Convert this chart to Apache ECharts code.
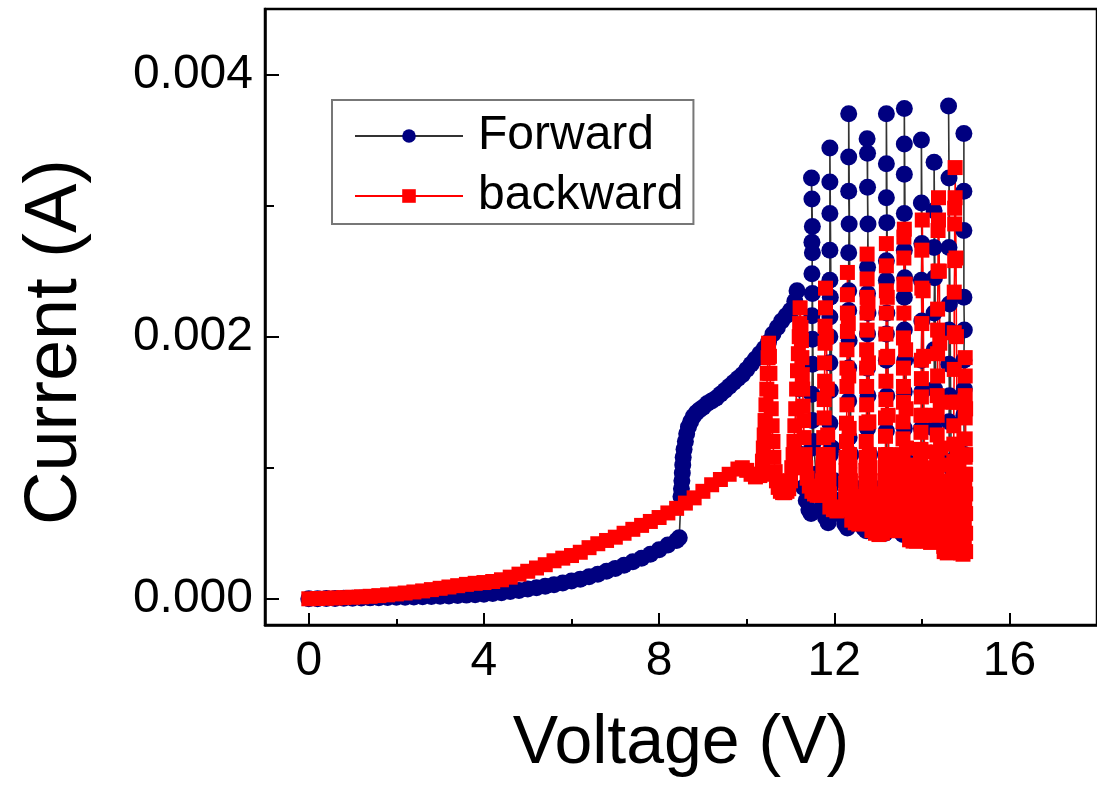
<!DOCTYPE html>
<html>
<head>
<meta charset="utf-8">
<script src="https://cdn.jsdelivr.net/npm/echarts@6/dist/echarts.min.js"></script>
<style>
  html, body { margin: 0; padding: 0; background: #fff; }
  #chart { width: 1097px; height: 791px; }
</style>
</head>
<body>
<div id="chart"></div>
<script>
// values: [voltage (V), current (mA)]
const forwardLow = [
  [0, 0], [0.2, 0.001], [0.4, 0.002], [0.6, 0.003], [0.8, 0.004], [1, 0.005], [1.2, 0.006],
  [1.4, 0.007], [1.6, 0.008], [1.8, 0.009], [2, 0.011], [2.2, 0.012], [2.4, 0.014], [2.6, 0.016],
  [2.8, 0.018], [3, 0.02], [3.2, 0.022], [3.4, 0.025], [3.6, 0.028], [3.8, 0.031], [4, 0.035],
  [4.2, 0.04], [4.4, 0.047], [4.6, 0.055], [4.8, 0.064], [5, 0.075], [5.2, 0.085], [5.4, 0.095],
  [5.6, 0.107], [5.8, 0.12], [6, 0.135], [6.2, 0.15], [6.4, 0.168], [6.6, 0.188], [6.8, 0.21],
  [7, 0.232], [7.2, 0.256], [7.4, 0.282], [7.6, 0.31], [7.8, 0.34], [8, 0.375], [8.2, 0.41],
  [8.4, 0.445], [8.46, 0.465]
]
const forwardRise = [
  [8.5, 0.78], [8.51, 0.84], [8.52, 0.9], [8.53, 0.96], [8.54, 1.02], [8.55, 1.08], [8.57, 1.14],
  [8.6, 1.2], [8.63, 1.26], [8.67, 1.31], [8.72, 1.35], [8.78, 1.39], [8.85, 1.42], [8.92, 1.44],
  [9, 1.46], [9.1, 1.49], [9.2, 1.51], [9.3, 1.53], [9.4, 1.56], [9.5, 1.59], [9.6, 1.62], [9.7, 1.65],
  [9.8, 1.68], [9.9, 1.71], [10, 1.75], [10.1, 1.79], [10.2, 1.83], [10.3, 1.87], [10.4, 1.91],
  [10.5, 1.96], [10.6, 2.02], [10.7, 2.07], [10.8, 2.12], [10.9, 2.16], [11, 2.2], [11.1, 2.27],
  [11.15, 2.35]
]
const forwardOsc = [
  [11.2, 1.6], [11.25, 1.1], [11.3, 0.85], [11.36, 0.75], [11.42, 0.68], [11.47, 0.65],
  [11.49, 0.9], [11.5, 1.15], [11.5, 1.36], [11.49, 1.56], [11.5, 1.79], [11.5, 1.98], [11.49, 2.16],
  [11.5, 2.33], [11.49, 2.48], [11.5, 2.64], [11.49, 2.72], [11.5, 2.84], [11.49, 3.05], [11.48, 3.21],
  [11.53, 1.2], [11.58, 0.95], [11.65, 0.8], [11.72, 0.7], [11.8, 0.62], [11.86, 0.58],
  [11.9, 0.85], [11.91, 1.1], [11.9, 1.34], [11.91, 1.59], [11.9, 1.8], [11.9, 2.0], [11.9, 2.15],
  [11.91, 2.3], [11.9, 2.43], [11.9, 2.66], [11.9, 2.94], [11.9, 3.18], [11.9, 3.44],
  [11.95, 1.15], [12.0, 0.9], [12.08, 0.75], [12.16, 0.64], [12.24, 0.57], [12.3, 0.54],
  [12.33, 0.8], [12.33, 1.0], [12.34, 1.23], [12.33, 1.51], [12.33, 1.76], [12.34, 1.97], [12.33, 2.2],
  [12.33, 2.35], [12.33, 2.64], [12.34, 2.86], [12.33, 3.11], [12.33, 3.37], [12.33, 3.7],
  [12.38, 1.1], [12.45, 0.85], [12.52, 0.7], [12.6, 0.6], [12.67, 0.54], [12.73, 0.52],
  [12.76, 0.8], [12.77, 1.05], [12.76, 1.3], [12.77, 1.55], [12.76, 1.76], [12.76, 2.02], [12.77, 2.18],
  [12.76, 2.33], [12.76, 2.53], [12.77, 2.86], [12.76, 3.14], [12.76, 3.4], [12.75, 3.51],
  [12.81, 1.1], [12.88, 0.85], [12.95, 0.7], [13.03, 0.6], [13.1, 0.53], [13.16, 0.5],
  [13.19, 0.75], [13.2, 1.0], [13.19, 1.28], [13.2, 1.55], [13.19, 1.82], [13.19, 2.02], [13.2, 2.18],
  [13.19, 2.43], [13.19, 2.58], [13.2, 2.87], [13.19, 3.06], [13.19, 3.32], [13.19, 3.7],
  [13.24, 1.05], [13.3, 0.8], [13.37, 0.66], [13.45, 0.57], [13.52, 0.51], [13.57, 0.49],
  [13.6, 0.75], [13.61, 1.0], [13.6, 1.3], [13.6, 1.58], [13.61, 1.82], [13.6, 2.05], [13.6, 2.3],
  [13.61, 2.45], [13.6, 2.66], [13.6, 2.94], [13.6, 3.24], [13.6, 3.47], [13.6, 3.74],
  [13.65, 1.05], [13.72, 0.8], [13.8, 0.66], [13.88, 0.57], [13.94, 0.51], [13.97, 0.49],
  [13.99, 0.75], [14.0, 1.0], [13.99, 1.3], [14.0, 1.58], [13.99, 1.82], [14.0, 2.12], [13.99, 2.43],
  [14.0, 2.71], [13.99, 3.02], [13.99, 3.5],
  [14.04, 1.0], [14.1, 0.78], [14.17, 0.64], [14.23, 0.56], [14.26, 0.52],
  [14.28, 0.75], [14.29, 1.0], [14.28, 1.3], [14.29, 1.6], [14.28, 1.9], [14.28, 2.18], [14.29, 2.45],
  [14.28, 2.68], [14.28, 2.96], [14.28, 3.33],
  [14.33, 1.0], [14.4, 0.78], [14.47, 0.65], [14.55, 0.57], [14.6, 0.53],
  [14.62, 0.75], [14.63, 1.05], [14.62, 1.35], [14.63, 1.55], [14.62, 1.79], [14.62, 2.05], [14.63, 2.25],
  [14.62, 2.68], [14.62, 3.21], [14.61, 3.76],
  [14.67, 1.0], [14.73, 0.8], [14.8, 0.67], [14.87, 0.6], [14.93, 0.56],
  [14.96, 0.8], [14.97, 1.1], [14.96, 1.4], [14.97, 1.6], [14.96, 1.82], [14.97, 2.05], [14.96, 2.3],
  [14.96, 2.81], [14.96, 3.11], [14.96, 3.55]
]
const backwardLow = [
  [0, 0], [0.2, 0.002], [0.4, 0.004], [0.6, 0.006], [0.8, 0.009], [1, 0.012], [1.2, 0.015],
  [1.4, 0.019], [1.6, 0.024], [1.8, 0.03], [2, 0.037], [2.2, 0.044], [2.4, 0.052], [2.6, 0.06],
  [2.8, 0.07], [3, 0.08], [3.2, 0.09], [3.4, 0.1], [3.6, 0.11], [3.8, 0.118], [4, 0.124],
  [4.2, 0.132], [4.4, 0.145], [4.6, 0.165], [4.8, 0.188], [5, 0.21], [5.2, 0.235], [5.4, 0.26],
  [5.6, 0.29], [5.8, 0.31], [6, 0.33], [6.2, 0.355], [6.4, 0.39], [6.6, 0.42], [6.8, 0.445],
  [7, 0.47], [7.2, 0.5], [7.4, 0.53], [7.6, 0.56], [7.8, 0.59], [8, 0.62], [8.2, 0.655],
  [8.4, 0.69], [8.6, 0.73], [8.8, 0.77], [9, 0.82], [9.2, 0.87], [9.4, 0.91], [9.6, 0.95],
  [9.8, 0.99], [9.9, 1.0], [10, 0.98], [10.1, 0.95], [10.2, 0.93], [10.3, 0.94]
]
// backward spikes: rising side, peak, falling side, flat bottom before the next spike
const backwardOsc = [
  [10.34, 0.95], [10.36, 1.05], [10.38, 1.15], [10.4, 1.25], [10.42, 1.36], [10.44, 1.48], [10.46, 1.6],
  [10.47, 1.72], [10.49, 1.84], [10.5, 1.95], [10.52, 1.85], [10.53, 1.72], [10.55, 1.58], [10.56, 1.45],
  [10.58, 1.32], [10.6, 1.2], [10.62, 1.08], [10.65, 0.97], [10.68, 0.9], [10.72, 0.85], [10.77, 0.82],
  [10.82, 0.81], [10.87, 0.81], [10.92, 0.82], [10.96, 0.84],
  [11.0, 0.9], [11.03, 1.0], [11.06, 1.1], [11.08, 1.2], [11.1, 1.32], [11.12, 1.45], [11.14, 1.6],
  [11.16, 1.74], [11.18, 1.87], [11.2, 2.0], [11.21, 2.1], [11.22, 2.22], [11.24, 2.07], [11.25, 1.97],
  [11.26, 1.84], [11.27, 1.71], [11.28, 1.6], [11.29, 1.47], [11.3, 1.36], [11.31, 1.23], [11.33, 1.1],
  [11.35, 1.0], [11.38, 0.92], [11.43, 0.86], [11.49, 0.82], [11.55, 0.8], [11.61, 0.79], [11.67, 0.79],
  [11.72, 0.8], [11.73, 0.9], [11.74, 1.0], [11.75, 1.1], [11.76, 1.23], [11.77, 1.38], [11.77, 1.52],
  [11.78, 1.66], [11.78, 1.8], [11.79, 1.95], [11.79, 2.08], [11.8, 2.22], [11.8, 2.37],
  [11.82, 2.0], [11.84, 1.6], [11.85, 1.25], [11.86, 1.1], [11.87, 1.0], [11.88, 0.9], [11.89, 0.8],
  [11.9, 0.7], [11.98, 0.68], [12.06, 0.67], [12.14, 0.68], [12.22, 0.7],
  [12.26, 0.78], [12.26, 0.88], [12.27, 0.98], [12.27, 1.08], [12.28, 1.2], [12.28, 1.34], [12.29, 1.48],
  [12.29, 1.62], [12.29, 1.76], [12.29, 1.9], [12.3, 2.04], [12.3, 2.18], [12.3, 2.32], [12.3, 2.49],
  [12.32, 2.1], [12.33, 1.7], [12.34, 1.3], [12.35, 1.1], [12.36, 1.0], [12.37, 0.9], [12.38, 0.8],
  [12.39, 0.7], [12.4, 0.6], [12.48, 0.58], [12.56, 0.57], [12.64, 0.58],
  [12.71, 0.68], [12.71, 0.78], [12.72, 0.88], [12.72, 0.98], [12.73, 1.08], [12.73, 1.2], [12.73, 1.34],
  [12.74, 1.48], [12.74, 1.62], [12.74, 1.76], [12.74, 1.9], [12.75, 2.05], [12.75, 2.18], [12.75, 2.3],
  [12.75, 2.44], [12.75, 2.63],
  [12.77, 2.25], [12.78, 1.8], [12.79, 1.35], [12.8, 1.1], [12.81, 1.0], [12.82, 0.9], [12.83, 0.8],
  [12.84, 0.7], [12.85, 0.6], [12.86, 0.52], [12.94, 0.5], [13.02, 0.49], [13.1, 0.5],
  [13.15, 0.6], [13.15, 0.7], [13.16, 0.8], [13.16, 0.9], [13.16, 1.0], [13.17, 1.1], [13.17, 1.24],
  [13.17, 1.38], [13.18, 1.52], [13.18, 1.66], [13.18, 1.84], [13.18, 2.02], [13.19, 2.18], [13.19, 2.35],
  [13.19, 2.54], [13.19, 2.71],
  [13.21, 2.3], [13.22, 1.85], [13.23, 1.4], [13.24, 1.1], [13.25, 1.0], [13.26, 0.9], [13.27, 0.8],
  [13.28, 0.7], [13.29, 0.6], [13.3, 0.53], [13.38, 0.52], [13.46, 0.52],
  [13.54, 0.6], [13.55, 0.7], [13.55, 0.8], [13.56, 0.9], [13.56, 1.0], [13.57, 1.1], [13.57, 1.22],
  [13.57, 1.35], [13.58, 1.5], [13.58, 1.62], [13.58, 1.76], [13.58, 1.99], [13.59, 2.18], [13.59, 2.4],
  [13.59, 2.6], [13.59, 2.76], [13.6, 2.82],
  [13.62, 2.4], [13.63, 1.9], [13.64, 1.45], [13.65, 1.15], [13.66, 1.02], [13.67, 0.92], [13.68, 0.82],
  [13.69, 0.72], [13.7, 0.62], [13.71, 0.52], [13.72, 0.45], [13.8, 0.44], [13.88, 0.44],
  [13.95, 0.54], [13.96, 0.64], [13.96, 0.74], [13.97, 0.84], [13.97, 0.94], [13.97, 1.04], [13.98, 1.14],
  [13.98, 1.27], [13.98, 1.4], [13.99, 1.54], [13.99, 1.68], [13.99, 1.82], [14.0, 2.1], [14.0, 2.37],
  [14.0, 2.66], [14.01, 2.89],
  [14.03, 2.35], [14.04, 1.85], [14.05, 1.4], [14.06, 1.12], [14.07, 1.0], [14.08, 0.9], [14.09, 0.8],
  [14.1, 0.7], [14.11, 0.6], [14.12, 0.5], [14.13, 0.44], [14.2, 0.43], [14.27, 0.44],
  [14.32, 0.52], [14.33, 0.62], [14.33, 0.72], [14.34, 0.82], [14.34, 0.92], [14.34, 1.02], [14.35, 1.12],
  [14.35, 1.25], [14.35, 1.4], [14.35, 1.55], [14.36, 1.7], [14.36, 1.87], [14.36, 2.05], [14.36, 2.21],
  [14.37, 2.5], [14.37, 2.81], [14.38, 2.89], [14.38, 3.06],
  [14.4, 2.5], [14.41, 1.95], [14.42, 1.5], [14.43, 1.15], [14.44, 1.02], [14.45, 0.9], [14.46, 0.8],
  [14.47, 0.7], [14.48, 0.6], [14.49, 0.5], [14.5, 0.4], [14.51, 0.36], [14.58, 0.35], [14.65, 0.36],
  [14.7, 0.45], [14.71, 0.55], [14.71, 0.65], [14.72, 0.75], [14.72, 0.85], [14.72, 0.95], [14.73, 1.05],
  [14.73, 1.18], [14.73, 1.32], [14.73, 1.5], [14.74, 1.75], [14.74, 2.03], [14.74, 2.34], [14.75, 2.58],
  [14.75, 2.86], [14.75, 2.98], [14.76, 3.06], [14.76, 3.29],
  [14.78, 2.6], [14.79, 2.0], [14.8, 1.5], [14.81, 1.15], [14.82, 1.02], [14.83, 0.9], [14.84, 0.8],
  [14.85, 0.7], [14.86, 0.6], [14.87, 0.5], [14.88, 0.4], [14.89, 0.35], [14.94, 0.34],
  [14.97, 0.44], [14.97, 0.55], [14.98, 0.65], [14.98, 0.75], [14.98, 0.85], [14.98, 0.95], [14.99, 1.08],
  [14.99, 1.22], [14.99, 1.38], [14.99, 1.55], [14.99, 1.7], [14.99, 1.84],
  [15.0, 1.45], [15.0, 1.1], [15.0, 0.95], [15.0, 0.8], [15.0, 0.65], [15.0, 0.5], [15.0, 0.36]
]

const xMajorTicks = [0, 4, 8, 12, 16]
const xMinorTicks = [2, 6, 10, 14]
const yMajorTicks = [0, 0.002, 0.004]
const yMinorTicks = [0.001, 0.003]

const toAmp = arr => arr.map(p => [p[0], p[1] / 1000])
const forwardData = toAmp(forwardLow.concat(forwardRise, forwardOsc))
const backwardData = toAmp(backwardLow.concat(backwardOsc))

const font = 'Liberation Sans'
const axisLine = { onZero: false, lineStyle: { color: '#000', width: 2.5 } }

const chart = echarts.init(document.getElementById('chart'))
chart.setOption({
  animation: false,
  backgroundColor: '#fff',
  grid: {
    left: 265, right: -7, top: 9, bottom: 166,
    show: true, borderColor: '#000', borderWidth: 2.5
  },
  legend: {
    orient: 'vertical',
    left: 332, top: 100,
    padding: [12, 10, 4, 22],
    itemGap: 12,
    itemWidth: 108,
    itemHeight: 17,
    borderColor: '#777',
    borderWidth: 2,
    textStyle: { fontFamily: font, fontSize: 48, color: '#000', padding: [0, 0, 0, 10] },
    data: ['Forward', 'backward']
  },
  xAxis: [
    {
      type: 'value', min: -1, max: 18, position: 'bottom',
      name: 'Voltage (V)', nameLocation: 'middle', nameGap: 85,
      nameTextStyle: { fontFamily: font, fontSize: 68, color: '#000' },
      axisLine,
      axisTick: { inside: true, length: 12, customValues: xMajorTicks, lineStyle: { color: '#000', width: 2 } },
      axisLabel: { customValues: xMajorTicks, margin: 13, fontFamily: font, fontSize: 48, color: '#000' },
      splitLine: { show: false }
    },
    {
      type: 'value', min: -1, max: 18, position: 'bottom',
      axisLine: { show: false, onZero: false },
      axisTick: { inside: true, length: 6, customValues: xMinorTicks, lineStyle: { color: '#000', width: 2 } },
      axisLabel: { show: false },
      splitLine: { show: false }
    }
  ],
  yAxis: [
    {
      type: 'value', min: -0.0002, max: 0.0045, position: 'left',
      name: 'Current (A)', nameLocation: 'middle', nameGap: 172,
      nameTextStyle: { fontFamily: font, fontSize: 74, color: '#000', padding: [0, 50, 0, 0] },
      axisLine,
      axisTick: { inside: true, length: 14, customValues: yMajorTicks, lineStyle: { color: '#000', width: 2 } },
      axisLabel: {
        customValues: yMajorTicks, margin: 12, fontFamily: font, fontSize: 48, color: '#000',
        formatter: v => v.toFixed(3)
      },
      splitLine: { show: false }
    },
    {
      type: 'value', min: -0.0002, max: 0.0045, position: 'left',
      axisLine: { show: false, onZero: false },
      axisTick: { inside: true, length: 9, customValues: yMinorTicks, lineStyle: { color: '#000', width: 2 } },
      axisLabel: { show: false },
      splitLine: { show: false }
    }
  ],
  series: [
    {
      name: 'Forward',
      type: 'line',
      data: forwardData,
      symbol: 'circle',
      symbolSize: 17,
      itemStyle: { color: '#000080' },
      lineStyle: { color: '#333', width: 1.6 },
      emphasis: { disabled: true }
    },
    {
      name: 'backward',
      type: 'line',
      data: backwardData,
      symbol: 'rect',
      symbolSize: 15,
      itemStyle: { color: '#ff0000' },
      lineStyle: { color: '#ff0000', width: 1.6 },
      emphasis: { disabled: true }
    }
  ]
})
</script>
</body>
</html>
